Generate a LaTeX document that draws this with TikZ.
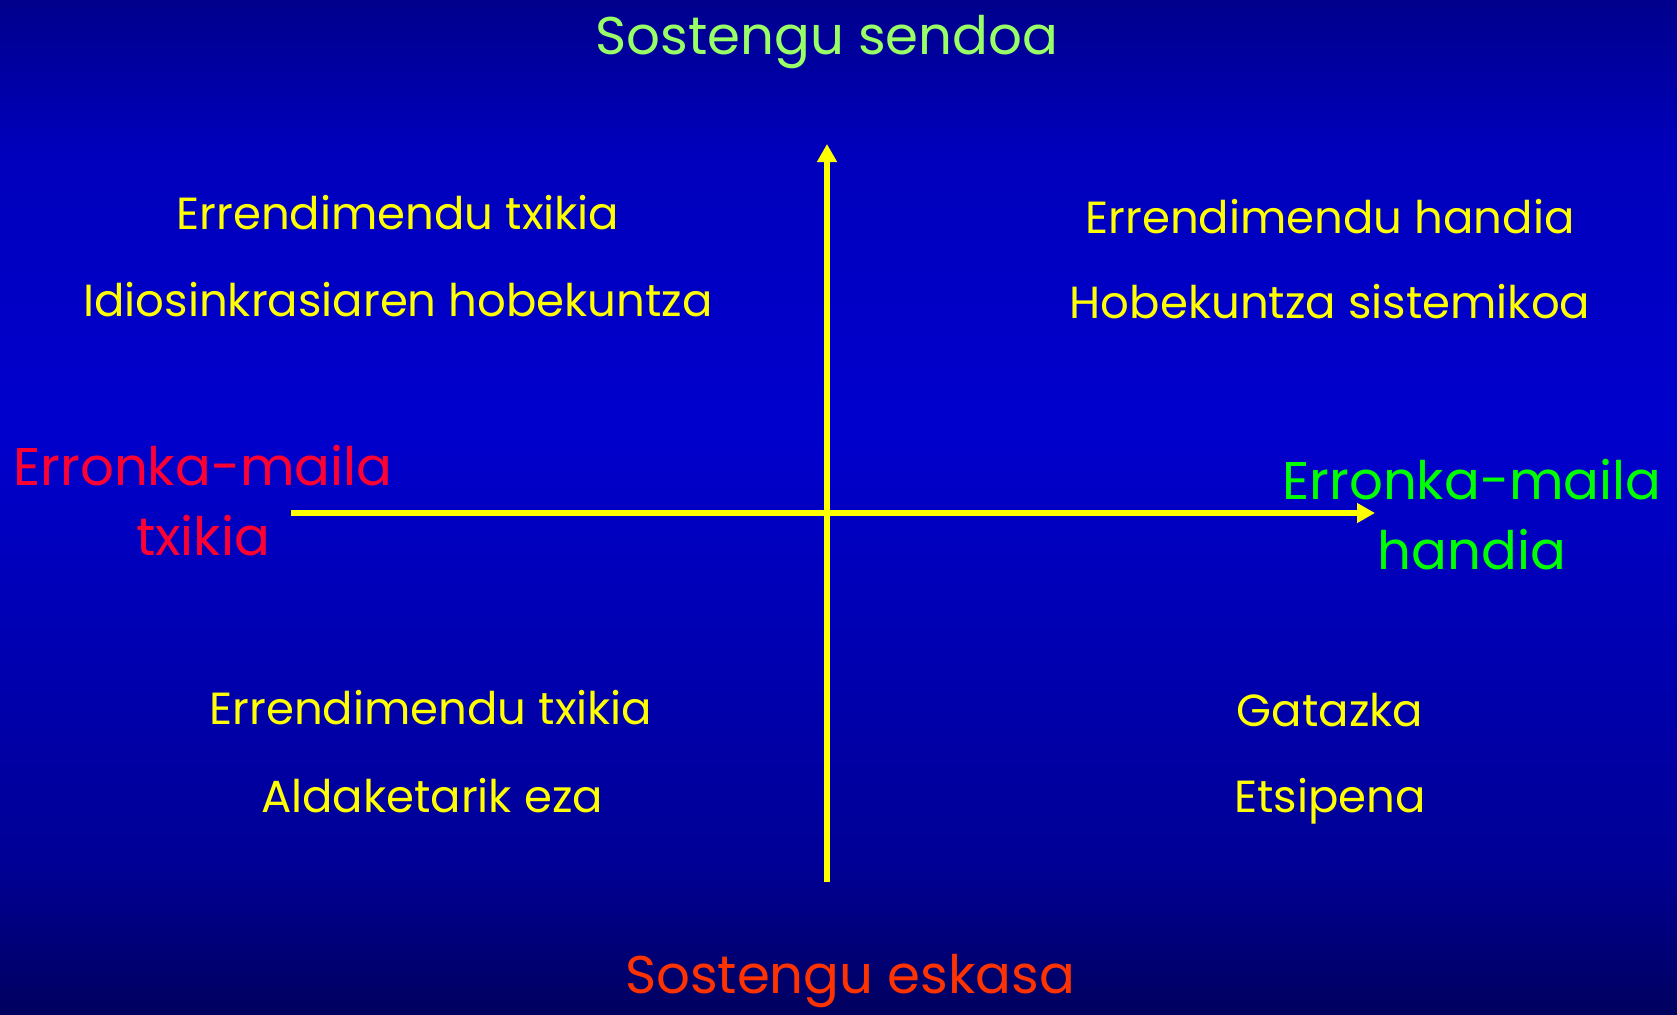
\documentclass[tikz,border=0pt]{standalone}
\usepackage{fontspec}
\setmainfont{Poppins}
\usetikzlibrary{arrows.meta}
\definecolor{bgtop}{RGB}{0,0,140}
\definecolor{bgupper}{RGB}{0,0,188}
\definecolor{bgmid}{RGB}{0,0,205}
\definecolor{bglower}{RGB}{0,0,150}
\definecolor{bgbot}{RGB}{0,0,95}
\definecolor{ylw}{RGB}{255,255,0}
\definecolor{lgreen}{RGB}{153,255,102}
\definecolor{bgreen}{RGB}{0,255,0}
\definecolor{rred}{RGB}{255,0,51}
\definecolor{ored}{RGB}{255,51,0}
\pgfdeclareverticalshading{bgshade}{100bp}{color(0bp)=(bgbot); color(25bp)=(bgbot); color(32.5bp)=(bglower); color(54bp)=(bgmid); color(67.5bp)=(bgupper); color(75bp)=(bgtop); color(100bp)=(bgtop)}
\tikzset{
  axis/.style={draw=ylw, line width=6pt, -{Triangle[length=18pt,width=19pt]}},
  qtext/.style={text=ylw, font=\fontsize{45}{52}\selectfont, inner sep=0pt},
  bigtext/.style={font=\fontsize{53}{70}\selectfont, inner sep=0pt, align=center},
}
\begin{document}
\begin{tikzpicture}[x=1pt,y=-1pt]
\useasboundingbox (0,0) rectangle (1677,1014);
\shade[shading=bgshade] (0,0) rectangle (1677,1014);
% axes
\coordinate (vb) at (827,882);
\coordinate (vt) at (827,144);
\coordinate (hl) at (291,513);
\coordinate (hr) at (1375,513);
\draw[axis] (vb) -- (vt);
\draw[axis] (hl) -- (hr);
% axis labels
\node[bigtext, text=lgreen] (top) at (827,42) {Sostengu sendoa};
\node[bigtext, text=ored, anchor=base] (bot) at (850,993) {Sostengu eskasa};
\node[bigtext, text=rred] (left) at (203,501) {Erronka-maila\\txikia};
\node[bigtext, text=bgreen] (right) at (1472,515) {Erronka-maila\\handia};
% quadrants
\node[qtext] (q1a) at (398,213) {Errendimendu txikia};
\node[qtext] (q1b) at (398,300) {Idiosinkrasiaren hobekuntza};
\node[qtext] (q2a) at (1330,217) {Errendimendu handia};
\node[qtext] (q2b) at (1330,302) {Hobekuntza sistemikoa};
\node[qtext] (q3a) at (431,708) {Errendimendu txikia};
\node[qtext] (q3b) at (432,796) {Aldaketarik eza};
\node[qtext] (q4a) at (1330,710) {Gatazka};
\node[qtext] (q4b) at (1330,801) {Etsipena};
\end{tikzpicture}
\end{document}
